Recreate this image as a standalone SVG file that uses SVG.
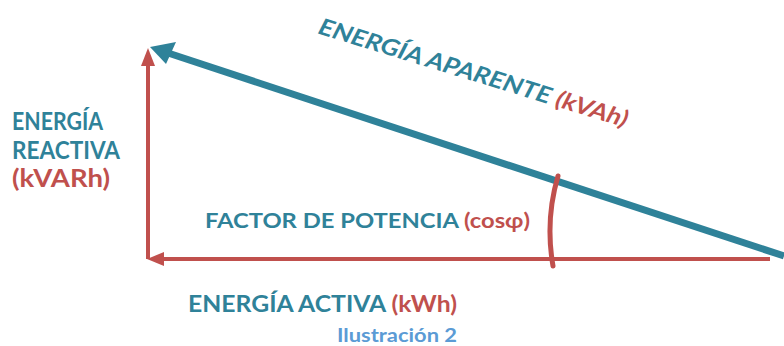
<svg xmlns="http://www.w3.org/2000/svg" width="784" height="346" viewBox="0 0 784 346">
<style>
.t{font-family:Lato,"Open Sans","Liberation Sans",sans-serif;font-weight:bold}
.b{fill:#2f8299}
.r{fill:#c0504d}
.rl{stroke:#c0504d;fill:none;stroke-width:4}
</style>
<rect width="784" height="346" fill="#fff"/>
<g id="connectors">
<line class="rl" x1="148" y1="259" x2="148" y2="60"/>
<polygon class="r" points="148,48 141,66 155,66"/>
<line class="rl" x1="158" y1="259" x2="770" y2="259"/>
<polygon class="r" points="147,259 164,252 164,266"/>
<line x1="784" y1="256" x2="162" y2="51" stroke="#2f8299" stroke-width="7"/>
<polygon class="b" points="150,47 176,42 166,64"/>
<path d="M558,176 Q545,220 553,266" stroke="#c0504d" stroke-width="5" fill="none" stroke-linecap="round"/>
</g>
<g id="reactiva">
<text class="t b" x="12" y="130" font-size="24" textLength="91" lengthAdjust="spacingAndGlyphs">ENERGÍA</text>
<text class="t b" x="12" y="159" font-size="24" textLength="108" lengthAdjust="spacingAndGlyphs">REACTIVA</text>
<text class="t r" x="12" y="187" font-size="24" textLength="98" lengthAdjust="spacingAndGlyphs">(kVARh)</text>
</g>
<g id="aparente">
<text class="t" transform="translate(316,33) rotate(17) skewX(-10)" font-size="23" textLength="322" lengthAdjust="spacingAndGlyphs"><tspan class="b">ENERGÍA APARENTE </tspan><tspan class="r">(kVAh)</tspan></text>
</g>
<g id="factor">
<text class="t" x="205" y="228" font-size="21" textLength="325" lengthAdjust="spacingAndGlyphs"><tspan class="b">FACTOR DE POTENCIA </tspan><tspan class="r">(cosφ)</tspan></text>
</g>
<g id="activa">
<text class="t" x="188" y="312" font-size="22" textLength="269" lengthAdjust="spacingAndGlyphs"><tspan class="b">ENERGÍA ACTIVA </tspan><tspan class="r">(kWh)</tspan></text>
</g>
<g id="caption">
<text class="t" x="337" y="342" font-size="19" fill="#5b9bd5" textLength="120" lengthAdjust="spacingAndGlyphs">Ilustración 2</text>
</g>
</svg>
